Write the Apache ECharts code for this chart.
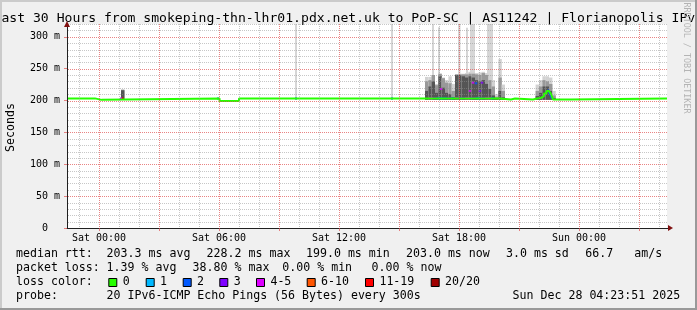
<!DOCTYPE html>
<html><head><meta charset="utf-8">
<script src="https://cdn.jsdelivr.net/npm/echarts@6/dist/echarts.min.js"></script>
<style>
html,body{margin:0;padding:0;background:#f0f0f0;overflow:hidden;}
#c{position:absolute;left:0;top:0;width:697px;height:310px;}
.b{position:absolute;}
</style></head><body>
<div id="c"></div>
<div class="b" style="left:0;top:0;width:697px;height:2px;background:#cbcbcb"></div>
<div class="b" style="left:0;top:0;width:2px;height:310px;background:#cbcbcb"></div>
<div class="b" style="left:0;top:308px;width:697px;height:2px;background:#999999"></div>
<div class="b" style="left:695px;top:0;width:2px;height:310px;background:#999999"></div>
<script>
// ---------------- DATA ----------------
// time unit: hours relative to Sat 00:00
const xMin = -1.6, xMax = 28.4;
const xLabelHours = [0, 6, 12, 18, 24];
const xLabelText = ['Sat 00:00', 'Sat 06:00', 'Sat 12:00', 'Sat 18:00', 'Sun 00:00'];
const majorHours = [0, 3, 6, 9, 12, 15, 18, 21, 24, 27];
const minorHours = [-1, 1, 2, 4, 5, 7, 8, 10, 11, 13, 14, 16, 17, 19, 20, 22, 23, 25, 26, 28];
const yMax = 320;
const yLabelValues = [0, 50, 100, 150, 200, 250, 300];
const yMajorGrid = [50, 100, 150, 200, 250, 300];
const yMinorGrid = [10, 20, 30, 40, 60, 70, 80, 90, 110, 120, 130, 140, 160, 170, 180, 190, 210, 220, 230, 240, 260, 270, 280, 290, 310, 320];

// median rtt (ms), each value holds from its time until the next time
const medianT = [-1.6, -0.2, 0.125, 6.03, 7.0, 20.05, 20.6, 20.8, 21.7, 21.9, 21.95, 22.1, 22.25, 22.375, 22.5, 22.6, 22.7, 23.55, 28.4];
const medianV = [203.3, 201.0, 203.3, 199.3, 203.3, 201.6, 203.0, 201.6, 203.0, 201.6, 204, 207, 211, 215, 217, 210, 201.6, 203.3, 203.3];

// loss-coloured pieces of the median line: start, end, value at start, value at end, loss class
const segStart = [1.05, 1.15, 5.9, 9.8, 14.6, 16.5, 16.7, 16.9, 17.4, 17.6, 17.8, 17.95, 18.3, 18.55, 18.85, 19.05, 19.3, 19.6, 22.45];
const segEnd   = [1.15, 1.225, 6.0, 9.9, 14.7, 16.7, 16.9, 17.4, 17.6, 17.75, 17.95, 18.3, 18.55, 18.85, 19.05, 19.3, 19.6, 19.75, 22.65];
const segFrom  = [203.3, 203.3, 203.3, 203.3, 203.3, 203.3, 203.3, 203.3, 203.3, 203.3, 203.3, 203.3, 203.3, 203.3, 203.3, 203.3, 203.3, 203.3, 217];
const segTo    = [203.3, 203.3, 203.3, 203.3, 203.3, 203.3, 203.3, 203.3, 203.3, 203.3, 203.3, 203.3, 203.3, 203.3, 203.3, 203.3, 203.3, 203.3, 203];
const segClass = [4, 6, 2, 2, 2, 4, 3, 2, 3, 2, 4, 3, 4, 3, 2, 3, 4, 2, 2];

// isolated elevated median samples
const jumpT = [17.1, 18.55, 18.7, 18.85, 19.05, 19.15];
const jumpV = [218, 215, 228, 227, 215, 228];
const jumpClass = [4, 4, 4, 2, 3, 3];

// smoke (10-minute bins): bin start, max ping, upper band, inner band (ms)
const smokeFloor = 201;
const smokeStep = 0.17;
const smokeT   = [1.1,
  16.3, 16.47, 16.63, 16.8, 16.97, 17.13, 17.3, 17.47, 17.63, 17.8, 17.97, 18.13,
  18.3, 18.47, 18.63, 18.8, 18.97, 19.13, 19.3, 19.47, 19.63, 19.8, 19.97, 20.13,
  21.83, 22.0, 22.17, 22.33, 22.5, 22.67];
const smokeMax = [217,
  237, 237, 240, 226, 242, 236, 232, 238, 226, 241, 242, 242,
  243, 245, 244, 243, 244, 245, 243, 240, 232, 210, 265, 225,
  225, 232, 238, 238, 236, 215];
const smokeHi  = [217,
  230, 232, 240, 224, 242, 235, 228, 227, 215, 241, 241, 241,
  241, 242, 242, 241, 240, 243, 240, 232, 222, 206, 236, 215,
  215, 222, 232, 230, 226, 208];
const smokeMid = [216,
  215, 222, 230, 212, 238, 220, 212, 210, 205, 240, 240, 238,
  236, 238, 236, 232, 230, 232, 226, 218, 208, 204, 215, 205,
  207, 212, 222, 222, 215, 204];

// single very slow pings (tall light smoke)
const spikeT   = [9.8, 14.6, 16.65, 16.95, 17.95, 18.35, 18.55, 19.4];
const spikeDur = [0.1, 0.1, 0.1, 0.1, 0.125, 0.1, 0.25, 0.3];
const spikeV   = [330, 330, 330, 315, 330, 314, 330, 330];

// legend / texts
const titleText = 'Last 30 Hours from smokeping-thn-lhr01.pdx.net.uk to PoP-SC | AS11242 | Florianopolis IPv6';
const rowMedian = ['median rtt:', '203.3 ms avg', '228.2 ms max', '199.0 ms min', '203.0 ms now', '3.0 ms sd', '66.7', 'am/s'];
const rowLoss   = ['packet loss:', '1.39 % avg', '38.80 % max', '0.00 % min', '0.00 % now'];
const lossLabels = ['0', '1', '2', '3', '4-5', '6-10', '11-19', '20/20'];
const rowProbe  = ['probe:', '20 IPv6-ICMP Echo Pings (56 Bytes) every 300s', 'Sun Dec 28 04:23:51 2025'];

// ---------------- STYLE / LAYOUT ----------------
const lossColors = ['#26ff00', '#00b8ff', '#0059ff', '#7e00ff', '#dd00ff', '#ff5500', '#ff0000', '#a00000'];
const smokeColors = ['#d2d2d2', '#999999', '#555555'];
const spikeColor = '#d6d6d6';
const FONT = '"DejaVu Sans Mono", monospace';
const GRID_C = 'rgba(143,143,143,0.5)';
const MGRID_C = 'rgba(224,80,80,0.7)';
const LEG = 11.6;
const rowMedianX = [16, 106.6, 206.6, 306, 406, 506, 585.3, 634.3];
const rowLossX = [16, 106.6, 192.6, 282.3, 371.6];
const rowProbeX = [16, 106.6, 512.6];
const legSquareX = [108.3, 145.7, 182.7, 219.3, 256, 306.7, 365, 430.7];
const rowY = [254.3, 268.3, 282.3, 296.3];

const chart = echarts.init(document.getElementById('c'));

const graphics = [];
function txt(x, y, s, size, opts) {
  opts = opts || {};
  graphics.push({
    type: 'text', x: x, y: y, rotation: opts.rot || 0, silent: true, z: 100,
    style: { text: s, font: size + 'px ' + FONT, fill: opts.fill || '#000',
      align: opts.align || 'left', verticalAlign: 'middle' }
  });
}
txt(348.3, 18.8, titleText, 13.1, { align: 'center' });
txt(10.5, 127.5, 'Seconds', LEG, { align: 'center', rot: Math.PI / 2 });
txt(686, 58, 'RRDTOOL / TOBI OETIKER', 8.4, { align: 'center', rot: -Math.PI / 2, fill: '#b4b4b4' });
rowMedian.forEach((s, i) => txt(rowMedianX[i], rowY[0], s, LEG));
rowLoss.forEach((s, i) => txt(rowLossX[i], rowY[1], s, LEG));
txt(16, rowY[2], 'loss color:', LEG);
lossLabels.forEach((s, i) => {
  graphics.push({ type: 'rect', silent: true, z: 100,
    shape: { x: legSquareX[i] + 0.5, y: 278.5, width: 8, height: 8 },
    style: { fill: lossColors[i], stroke: '#000', lineWidth: 1 } });
  txt(legSquareX[i] + 14.4, rowY[2], s, LEG);
});
rowProbe.forEach((s, i) => txt(rowProbeX[i], rowY[3], s, LEG));

// dotted grid lines drawn as 1x1 dots through the axis scales
function dottedV(color) {
  return function (params, api) {
    const h = api.value(0);
    const x = Math.round(api.coord([h, 0])[0]);
    const yb = Math.round(api.coord([h, 0])[1]);
    const yt = Math.round(api.coord([h, yMax])[1]);
    const kids = [];
    for (let y = yb - 2; y >= yt; y -= 2) {
      kids.push({ type: 'rect', shape: { x: x, y: y, width: 1, height: 1 }, style: { fill: color } });
    }
    return { type: 'group', children: kids };
  };
}
function dottedH(color) {
  return function (params, api) {
    const v = api.value(1);
    const y = Math.round(api.coord([xMin, v])[1]);
    const xl = Math.round(api.coord([xMin, v])[0]);
    const xr = Math.round(api.coord([xMax, v])[0]);
    const kids = [];
    for (let x = xl + 1; x < xr; x += 2) {
      kids.push({ type: 'rect', shape: { x: x, y: y, width: 1, height: 1 }, style: { fill: color } });
    }
    return { type: 'group', children: kids };
  };
}

const option = {
  animation: false,
  backgroundColor: 'transparent',
  grid: { left: 67, top: 24, width: 600, height: 204, show: true, backgroundColor: '#ffffff', borderWidth: 0 },
  xAxis: {
    type: 'value', min: xMin, max: xMax, z: 4,
    axisLine: { show: true, onZero: false, lineStyle: { color: '#202020', width: 1 } },
    axisTick: { show: true, customValues: majorHours, length: 3, lineStyle: { color: MGRID_C } },
    axisLabel: { show: true, customValues: xLabelHours, margin: 5, fontSize: 10, fontFamily: FONT, color: '#000',
      formatter: v => xLabelText[xLabelHours.indexOf(v)] || '' },
    splitLine: { show: false }
  },
  yAxis: {
    type: 'value', min: 0, max: yMax, interval: 10, z: 4, position: 'left',
    axisLine: { show: true, onZero: false, lineStyle: { color: '#202020', width: 1 } },
    axisTick: { show: true, length: 3, lineStyle: { color: MGRID_C },
      customValues: yLabelValues },
    axisLabel: { show: true, margin: 7, fontSize: 10, fontFamily: FONT, color: '#000',
      customValues: yLabelValues,
      formatter: v => yLabelValues.indexOf(v) < 0 ? '' : (v === 0 ? '0  ' : v + ' m') },
    splitLine: { show: false }
  },
  series: [
    { type: 'custom', name: 'spikes', clip: true, z: 1,
      data: spikeT.map((t, i) => [t, t + spikeDur[i], spikeV[i]]),
      encode: { x: [0, 1], y: 2 },
      renderItem: (params, api) => {
        const a = api.coord([api.value(0), Math.min(api.value(2), yMax)]);
        const b = api.coord([api.value(1), smokeFloor]);
        return { type: 'rect', shape: { x: a[0], y: a[1], width: b[0] - a[0], height: b[1] - a[1] }, style: { fill: spikeColor } };
      } },
    { type: 'custom', name: 'smoke', clip: true, z: 1,
      data: smokeT.map((t, i) => [t, t + smokeStep, smokeMax[i], smokeHi[i], smokeMid[i]]),
      encode: { x: [0, 1], y: [2, 3, 4] },
      renderItem: (params, api) => {
        const t0 = api.value(0), t1 = api.value(1);
        const base = api.coord([t0, smokeFloor]);
        const x1 = api.coord([t1, smokeFloor])[0];
        const vals = [api.value(2), api.value(3), api.value(4)];
        return { type: 'group', children: vals.map((v, k) => {
          const top = api.coord([t0, Math.min(v, yMax)]);
          return { type: 'rect', shape: { x: base[0], y: top[1], width: x1 - base[0], height: base[1] - top[1] },
            style: { fill: smokeColors[k] } };
        }) };
      } },
    { type: 'line', name: 'median', step: 'end', symbol: 'none', z: 2,
      data: medianT.map((t, i) => [t, medianV[i]]),
      lineStyle: { color: lossColors[0], width: 2 } },
    { type: 'custom', name: 'lossSeg', z: 2,
      data: segStart.map((t, i) => [t, segEnd[i], segFrom[i], segTo[i], segClass[i]]),
      encode: { x: [0, 1], y: [2, 3] },
      renderItem: (params, api) => {
        const a = api.coord([api.value(0), api.value(2)]);
        const b = api.coord([api.value(1), api.value(3)]);
        return { type: 'line', shape: { x1: a[0], y1: a[1], x2: b[0], y2: b[1] },
          style: { stroke: lossColors[api.value(4)], lineWidth: 2 } };
      } },
    { type: 'scatter', name: 'jumps', symbol: 'rect', symbolSize: [2.5, 2], z: 2,
      data: jumpT.map((t, i) => [t, jumpV[i], jumpClass[i]]),
      itemStyle: { color: p => lossColors[p.data[2]] } },
    { type: 'custom', name: 'minorGridH', z: 3, clip: false,
      data: yMinorGrid.map(v => [0, v]),
      encode: { x: 0, y: 1 }, renderItem: dottedH(GRID_C) },
    { type: 'custom', name: 'minorGridV', z: 3, clip: false,
      data: minorHours.map(h => [h, 0]), encode: { x: 0, y: 1 }, renderItem: dottedV(GRID_C) },
    { type: 'custom', name: 'majorGridH', z: 4, clip: false,
      data: yMajorGrid.map(v => [0, v]), encode: { x: 0, y: 1 }, renderItem: dottedH(MGRID_C) },
    { type: 'custom', name: 'majorGridV', z: 4, clip: false,
      data: majorHours.map(h => [h, 0]), encode: { x: 0, y: 1 }, renderItem: dottedV(MGRID_C) }
  ],
  graphic: graphics
};
chart.setOption(option);

// axis arrows
const yTop = chart.convertToPixel({ xAxisIndex: 0, yAxisIndex: 0 }, [xMin, yMax]);
const xEnd = chart.convertToPixel({ xAxisIndex: 0, yAxisIndex: 0 }, [xMax, 0]);
graphics.push({ type: 'polygon', silent: true, z: 100,
  shape: { points: [[yTop[0], yTop[1] - 3], [yTop[0] - 3, yTop[1] + 3], [yTop[0] + 3, yTop[1] + 3]] },
  style: { fill: '#801010' } });
graphics.push({ type: 'line', silent: true, z: 99,
  shape: { x1: xEnd[0], y1: xEnd[1] + 0.5, x2: xEnd[0] + 3, y2: xEnd[1] + 0.5 }, style: { stroke: '#202020', lineWidth: 1 } });
graphics.push({ type: 'polygon', silent: true, z: 100,
  shape: { points: [[xEnd[0] + 6, xEnd[1]], [xEnd[0] + 1, xEnd[1] - 3], [xEnd[0] + 1, xEnd[1] + 3]] },
  style: { fill: '#801010' } });
chart.setOption({ graphic: graphics });
</script>
</body></html>
